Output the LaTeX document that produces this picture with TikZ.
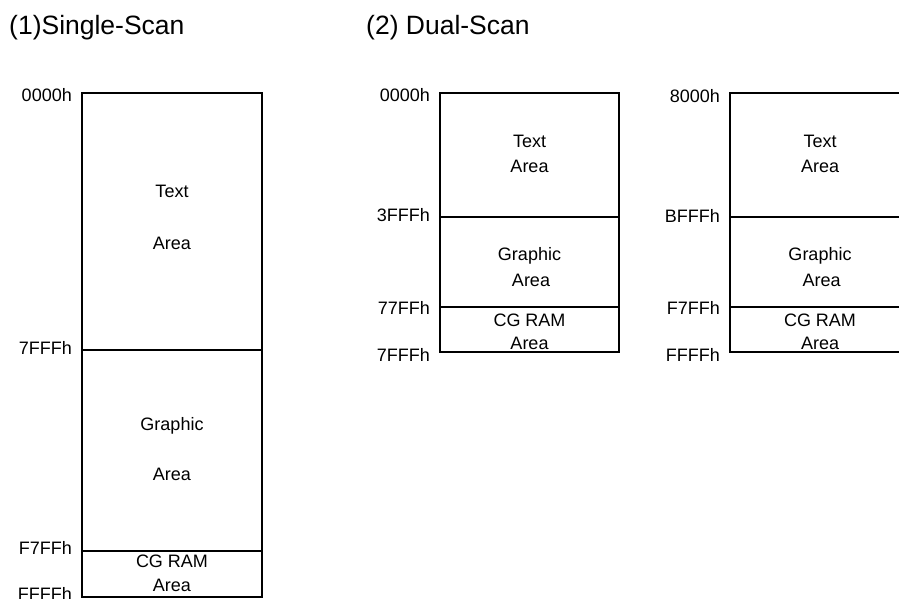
\documentclass[tikz,border=0pt]{standalone}
\usepackage{fontspec}
\setmainfont{Liberation Sans}

\tikzset{
  mapline/.style={line width=2.4pt},
  addr/.style={anchor=east, inner sep=0pt, font=\fontsize{18}{20}\selectfont},
  area/.style={anchor=base, inner sep=0pt, font=\fontsize{18}{20}\selectfont},
  heading/.style={anchor=base west, inner sep=0pt, font=\fontsize{26.5}{30}\selectfont},
}

\begin{document}
\begin{tikzpicture}[x=1pt,y=1pt]
      \useasboundingbox (0,0) rectangle (899,599);
      \clip (0,0) rectangle (899,599);

      % Headings
      \node[heading] (single) at (9,564) {(1)Single-Scan};
      \node[heading] (dual) at (366,564) {(2) Dual-Scan};

      % Single-scan memory map
      \draw[mapline] (82,2) rectangle (262,506);
      \draw[mapline] (82,249) -- (262,249);
      \draw[mapline] (82,48) -- (262,48);

      \node[addr] (sTop) at (72,504) {0000h};
      \node[addr] (sText) at (72,251) {7FFFh};
      \node[addr] (sGraph) at (72,51) {F7FFh};
      \node[addr] (sEnd) at (72,5.5) {FFFFh};

      \node[area] (sTextA) at (172,401) {Text};
      \node[area] (sTextB) at (172,349) {Area};
      \node[area] (sGraphA) at (172,168.5) {Graphic};
      \node[area] (sGraphB) at (172,118.5) {Area};
      \node[area] (sCgA) at (172,31) {CG RAM};
      \node[area] (sCgB) at (172,7) {Area};

      % Dual-scan, upper half
      \draw[mapline] (440,247) rectangle (619,506);
      \draw[mapline] (440,382) -- (619,382);
      \draw[mapline] (440,292) -- (619,292);

      \node[addr] (uTop) at (430,504) {0000h};
      \node[addr] (uText) at (430,384) {3FFFh};
      \node[addr] (uGraph) at (430,291) {77FFh};
      \node[addr] (uEnd) at (430,244) {7FFFh};

      \node[area] (uTextA) at (529.5,451) {Text};
      \node[area] (uTextB) at (529.5,426) {Area};
      \node[area] (uGraphA) at (529.5,338) {Graphic};
      \node[area] (uGraphB) at (531,312) {Area};
      \node[area] (uCgA) at (529.5,272) {CG RAM};
      \node[area] (uCgB) at (529.5,249) {Area};

      % Dual-scan, lower half
      \draw[mapline] (730,247) rectangle (910,506);
      \draw[mapline] (730,382) -- (910,382);
      \draw[mapline] (730,292) -- (910,292);

      \node[addr] (lTop) at (720,503) {8000h};
      \node[addr] (lText) at (720,383) {BFFFh};
      \node[addr] (lGraph) at (720,291) {F7FFh};
      \node[addr] (lEnd) at (720,244) {FFFFh};

      \node[area] (lTextA) at (820,451) {Text};
      \node[area] (lTextB) at (820,426) {Area};
      \node[area] (lGraphA) at (820,338) {Graphic};
      \node[area] (lGraphB) at (821.5,312) {Area};
      \node[area] (lCgA) at (820,272) {CG RAM};
      \node[area] (lCgB) at (820,249) {Area};
\end{tikzpicture}
\end{document}
